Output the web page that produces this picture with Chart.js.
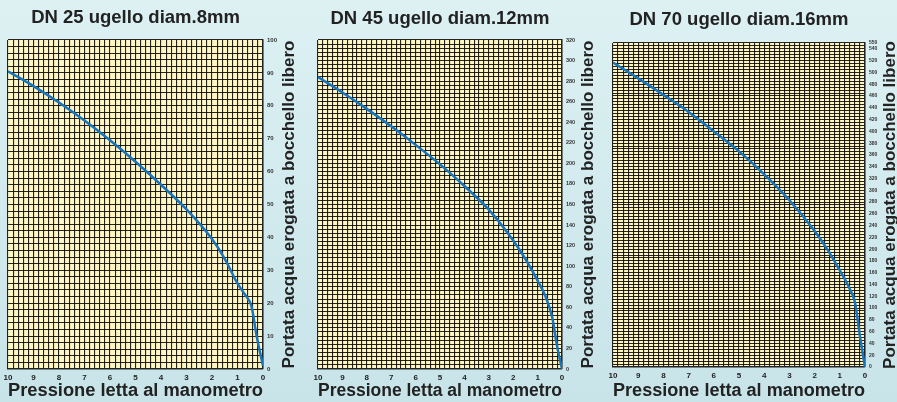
<!DOCTYPE html>
<html>
<head>
<meta charset="utf-8">
<script src="https://cdn.jsdelivr.net/npm/chart.js@4.4.1/dist/chart.umd.min.js"></script>
<style>
  html, body { margin: 0; padding: 0; }
  body {
    width: 897px; height: 402px; overflow: hidden; position: relative;
    background: linear-gradient(180deg, #ddf1f3 0%, #d0e9ed 60%, #c8e4e9 100%);
  }
  canvas { position: absolute; top: 0; }
</style>
</head>
<body>
<canvas id="c25" width="300" height="402" style="left:0"></canvas>
<canvas id="c45" width="300" height="402" style="left:300px"></canvas>
<canvas id="c70" width="297" height="402" style="left:600px"></canvas>
<script>
// pressione letta (bar) e portata per ogni ugello
var pressure25 = [0, 0.25, 0.45, 0.7, 1, 1.5, 2, 3, 4, 5, 6, 7, 8, 9, 10];
var flow25     = [1, 10, 19, 22.5, 26, 33.5, 39.5, 48.5, 56, 63, 69.5, 75.5, 81, 86, 90.5];

var pressure45 = [0, 0.2, 0.4, 0.7, 1, 1.5, 2, 3, 4, 5, 6, 7, 8, 9, 10];
var flow45     = [0, 22, 50, 72, 86, 107, 125, 155, 178, 199, 218, 236, 253, 269, 284];

var pressure70 = [0, 0.2, 0.4, 0.6, 0.8, 1, 1.5, 2, 3, 4, 5, 6, 7, 8, 9, 10];
var flow70     = [0, 52, 110, 132, 149, 164, 200, 231, 283, 327, 366, 400, 433, 462, 490, 517];

// etichette degli assi
var xLabels   = [10, 9, 8, 7, 6, 5, 4, 3, 2, 1, 0];
var yLabels25 = [0, 10, 20, 30, 40, 50, 60, 70, 80, 90, 100];
var yLabels45 = [0, 20, 40, 60, 80, 100, 120, 140, 160, 180, 200, 220, 240, 260, 280, 300, 320];
var yLabels70 = [0, 20, 40, 60, 80, 100, 120, 140, 160, 180, 200, 220, 240, 260, 280, 300,
                 320, 340, 360, 380, 400, 420, 440, 460, 480, 500, 520, 540, 550];

var titles = ['DN 25 ugello diam.8mm', 'DN 45 ugello diam.12mm', 'DN 70 ugello diam.16mm'];
var xTitle = 'Pressione letta al manometro';
var yTitle = 'Portata acqua erogata a bocchello libero';

var FONT = '"Liberation Sans", Arial, Helvetica, sans-serif';

function steps(max, step) {
  var out = [];
  for (var i = 0; i * step <= max + 1e-9; i++) out.push(Math.round(i * step * 1000) / 1000);
  return out;
}

// testi e fondo giallo della carta millimetrata
var panelText = {
  id: 'panelText',
  beforeDraw: function (chart, args, opts) {
    var ctx = chart.ctx, a = chart.chartArea;
    ctx.save();
    ctx.fillStyle = '#fff6c6';
    ctx.fillRect(a.left, a.top, a.right - a.left, a.bottom - a.top);
    ctx.restore();
  },
  afterDraw: function (chart, args, opts) {
    var ctx = chart.ctx, a = chart.chartArea;
    ctx.save();
    ctx.fillStyle = '#222';
    ctx.textAlign = 'center';
    ctx.textBaseline = 'middle';
    ctx.font = 'bold 18.5px ' + FONT;
    ctx.fillText(opts.title, (a.left + a.right) / 2, opts.titleY);
    ctx.translate(opts.yTitleX, (a.top + a.bottom) / 2);
    ctx.rotate(-Math.PI / 2);
    ctx.font = 'bold 17px ' + FONT;
    ctx.fillText(yTitle, 0, 0);
    ctx.restore();
  }
};

function makeChart(id, px, py, cfg) {
  var pts = px.map(function (p, i) { return {x: p, y: py[i]}; });
  var xGrid = steps(10, 0.2);
  var yGrid = steps(cfg.yMax, cfg.yStep);
  return new Chart(document.getElementById(id), {
    type: 'line',
    data: {
      datasets: [{
        data: pts,
        borderColor: '#1675bd',
        borderWidth: 2.5,
        pointRadius: 0,
        cubicInterpolationMode: 'monotone',
        fill: false
      }]
    },
    options: {
      responsive: false,
      animation: false,
      devicePixelRatio: 1,
      layout: { padding: { left: cfg.left, top: cfg.top, right: 0, bottom: 0 } },
      plugins: {
        legend: { display: false },
        tooltip: { enabled: false },
        panelText: { title: cfg.title, titleY: cfg.titleY, yTitleX: cfg.yTitleX }
      },
      scales: {
        x: {
          type: 'linear', min: 0, max: 10, reverse: true,
          afterBuildTicks: function (ax) { ax.ticks = xGrid.map(function (v) { return {value: v}; }); },
          afterFit: function (ax) { ax.height = cfg.xHeight; },
          grid: { color: 'rgba(15,12,8,0.9)', lineWidth: 1.1, drawTicks: false },
          border: { display: true, color: '#222', width: 1.5 },
          ticks: {
            autoSkip: false, maxRotation: 0, minRotation: 0, padding: 4,
            color: '#222', font: { family: FONT, size: 8, weight: 'bold' },
            callback: function (v) { return xLabels.indexOf(v) >= 0 ? String(v) : ''; }
          },
          title: {
            display: true, text: xTitle, color: '#222',
            font: { family: FONT, size: 18.3, weight: 'bold' },
            padding: { top: 0, bottom: 0 }
          }
        },
        y: {
          type: 'linear', position: 'right', min: 0, max: cfg.yMax,
          afterBuildTicks: function (ax) { ax.ticks = yGrid.map(function (v) { return {value: v}; }); },
          afterFit: function (ax) { ax.width = cfg.yWidth; },
          grid: { color: 'rgba(15,12,8,0.9)', lineWidth: 1.1, drawTicks: false },
          border: { display: true, color: '#222', width: 1.5 },
          ticks: {
            autoSkip: false, padding: 4, color: '#333',
            font: { family: FONT, size: cfg.yFont, weight: 'bold' },
            callback: function (v) { return cfg.labels.indexOf(v) >= 0 ? String(v) : ''; }
          }
        }
      }
    },
    plugins: [panelText]
  });
}

makeChart('c25', pressure25, flow25, {
  title: titles[0], titleY: 18, yTitleX: 289, left: 8, top: 40, xHeight: 33, yWidth: 37,
  yMax: 100, yStep: 2, labels: yLabels25, yFont: 6
});
makeChart('c45', pressure45, flow45, {
  title: titles[1], titleY: 19, yTitleX: 288, left: 18, top: 40, xHeight: 33, yWidth: 38,
  yMax: 320, yStep: 4, labels: yLabels45, yFont: 5.5
});
makeChart('c70', pressure70, flow70, {
  title: titles[2], titleY: 20, yTitleX: 290, left: 13, top: 43, xHeight: 35, yWidth: 32,
  yMax: 550, yStep: 5, labels: yLabels70, yFont: 5
});
</script>
</body>
</html>
